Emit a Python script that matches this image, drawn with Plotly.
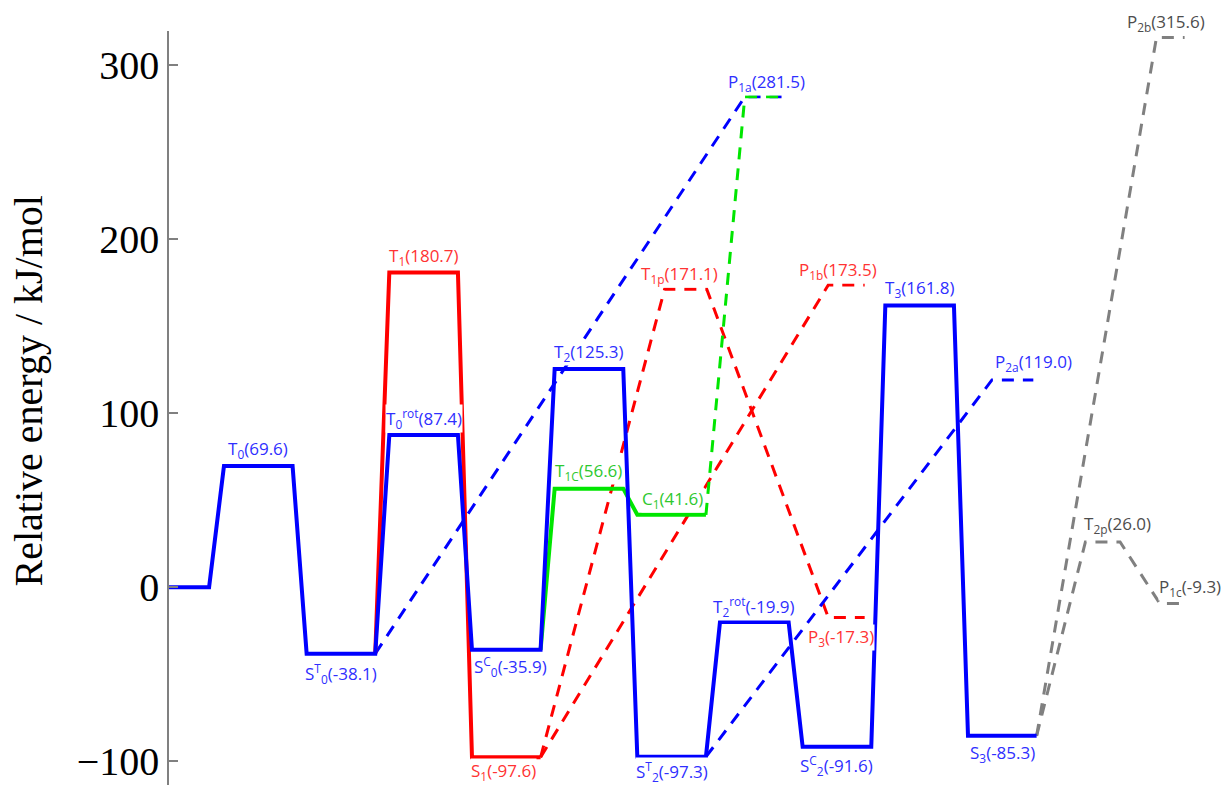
import plotly.graph_objects as go

# ---------------- data: stationary points (kJ/mol) ----------------
names = ["R", "T0", "ST0", "T0rot", "SC0", "T2", "ST2", "T2rot", "SC2", "T3", "S3",
         "T1", "S1", "T1c", "C1", "T1p", "P1a", "P1b", "P3", "P2a", "T2p", "P1c", "P2b"]
display = ["", "T<sub>0</sub>", "S<sup>T</sup><sub>0</sub>", "T<sub>0</sub><sup>rot</sup>",
           "S<sup>C</sup><sub>0</sub>", "T<sub>2</sub>", "S<sup>T</sup><sub>2</sub>",
           "T<sub>2</sub><sup>rot</sup>", "S<sup>C</sup><sub>2</sub>", "T<sub>3</sub>",
           "S<sub>3</sub>", "T<sub>1</sub>", "S<sub>1</sub>", "T<sub>1C</sub>", "C<sub>1</sub>",
           "T<sub>1p</sub>", "P<sub>1a</sub>", "P<sub>1b</sub>", "P<sub>3</sub>",
           "P<sub>2a</sub>", "T<sub>2p</sub>", "P<sub>1c</sub>", "P<sub>2b</sub>"]
energies = [0.0, 69.6, -38.1, 87.4, -35.9, 125.3, -97.3, -19.9, -91.6, 161.8, -85.3,
            180.7, -97.6, 56.6, 41.6, 171.1, 281.5, 173.5, -17.3, 119.0, 26.0, -9.3, 315.6]

# reaction-coordinate extent of each level
rc_start = [0.0, 1.0, 2.0, 3.0, 4.0, 5.0, 6.0, 7.0, 8.0, 9.0, 10.0,
            3.0, 4.0, 5.0, 6.0, 6.33, 7.30, 8.31, 8.31, 10.29, 11.42, 12.32, 12.28]
rc_end = [0.82, 1.83, 2.83, 3.83, 4.83, 5.83, 6.83, 7.83, 8.83, 9.83, 10.83,
          3.83, 4.83, 5.83, 6.83, 6.84, 7.81, 8.75, 8.75, 10.79, 11.84, 12.66, 12.62]

# label placement (layout only)
label_dx = [0, 0, 0, 0.01, 0.05, 0, 0, 0, 0, 0, 0,
            0, -0.03, -0.01, 0.01, -0.08, 0.01, -0.10, -0.07, 0.25, 0.18, 0.19, -0.05]
label_dy = [0, 17, -20, 17, -17, 16, -15, 15, -19, 17, -18,
            16, -14, 17, 15, 15, 14, 15, -20, 17, 17, 16, 15]

BLUE, RED, GREEN, GRAY = "#0000ff", "#ff0000", "#00e600", "#808080"
TXT = {"blue": "#2f2fff", "red": "#ff3333", "green": "#2ec82e", "gray": "#4d4d4d"}
group = {n: "blue" for n in names}
for n in ["T1", "S1", "T1p", "P1b", "P3"]:
    group[n] = "red"
for n in ["T1c", "C1"]:
    group[n] = "green"
for n in ["T2p", "P1c", "P2b"]:
    group[n] = "gray"

# pathways: (levels, starts from end of first level?, colour, dashed?)
paths = [
    (["S1", "T1p", "P3"], True, RED, True),
    (["S1", "P1b"], True, RED, True),
    (["ST0", "P1a"], True, BLUE, True),
    (["ST2", "P2a"], True, BLUE, True),
    (["C1", "P1a"], True, GREEN, True),
    (["S3", "T2p", "P1c"], True, GRAY, True),
    (["S3", "P2b"], True, GRAY, True),
    (["SC0", "T1c", "C1"], True, GREEN, False),
    (["ST0", "T1", "S1"], True, RED, False),
    (["R", "T0", "ST0", "T0rot", "SC0", "T2", "ST2", "T2rot", "SC2", "T3", "S3"], False, BLUE, False),
]

idx = {n: i for i, n in enumerate(names)}
fig = go.Figure()
for levels, branch, color, dashed in paths:
    xs, ys = [], []
    for k, n in enumerate(levels):
        i = idx[n]
        if not (branch and k == 0):
            xs.append(rc_start[i]); ys.append(energies[i])
        xs.append(rc_end[i]); ys.append(energies[i])
    fig.add_trace(go.Scatter(
        x=xs, y=ys, mode="lines", hoverinfo="skip", showlegend=False,
        line=dict(color=color, width=3 if dashed else 4,
                  dash="12px,9px" if dashed else "solid")))

for i, n in enumerate(names):
    if not display[i]:
        continue
    fig.add_annotation(
        x=(rc_start[i] + rc_end[i]) / 2 + label_dx[i], y=energies[i],
        xref="x", yref="y", text=f"{display[i]}({energies[i]:.1f})",
        showarrow=False, xanchor="center", yanchor="middle", yshift=label_dy[i],
        font=dict(family="Open Sans", size=17, color=TXT[group[n]]),
        bgcolor="white", borderpad=0)

fig.add_annotation(
    text="Relative energy / kJ/mol", xref="paper", yref="paper",
    x=(28 - 169) / 1058, y=(785 - 391.5) / 754, xanchor="center", yanchor="middle",
    textangle=-90, showarrow=False,
    font=dict(family="Liberation Serif", size=40, color="black"))

fig.update_layout(
    width=1227, height=785,
    margin=dict(l=169, r=0, t=31, b=0),
    plot_bgcolor="white", paper_bgcolor="white",
    showlegend=False,
    xaxis=dict(visible=False, range=[0.335, 13.133]),
    yaxis=dict(range=[-113.5, 319.3], tickvals=[-100, 0, 100, 200, 300],
               showgrid=False, zeroline=False, showline=True, linecolor="#808080",
               linewidth=1.5, ticks="inside", ticklen=9, tickwidth=1.5, tickcolor="#808080",
               tickfont=dict(family="Liberation Serif", size=40, color="black")),
)

fig.write_html("out.html", config={"displayModeBar": False},
               post_script="document.body.style.margin='0';document.body.style.overflow='hidden';")
